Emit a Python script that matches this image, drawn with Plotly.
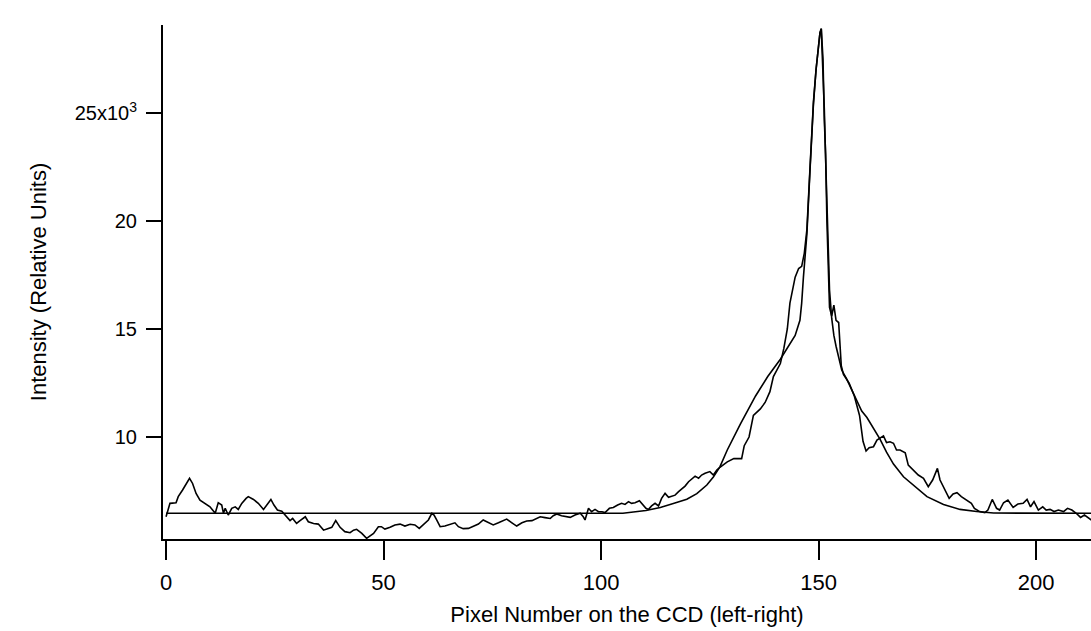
import plotly.graph_objects as go

# Measured spectrum (pixel number, intensity in units of 10^3)
data_x = [0.0, 0.9, 2.3, 2.8, 3.8, 5.4, 6.1, 6.9, 7.8, 9.0, 10.1, 11.3, 12.0, 12.8, 13.2, 13.6, 14.3, 15.1, 15.9, 16.6,
          17.4, 18.4, 18.9, 20.1, 21.2, 22.4, 23.1, 24.1, 24.8, 25.6, 26.6, 27.6, 28.5, 29.1, 30.0, 30.8, 32.0, 32.7, 33.9, 35.0,
          36.2, 37.3, 38.1, 39.0, 40.0, 41.1, 42.3, 43.1, 43.8, 45.0, 46.1, 47.7, 48.8, 49.5, 50.3, 51.5, 52.6, 53.8, 54.9, 56.1,
          57.2, 58.2, 59.2, 60.3, 61.1, 61.6, 62.2, 63.0, 64.1, 65.3, 66.4, 67.2, 68.3, 69.5, 70.6, 71.8, 72.9, 74.1, 75.2, 76.4,
          77.5, 78.3, 79.5, 80.6, 81.8, 82.9, 84.1, 84.8, 86.0, 87.1, 88.3, 89.0, 89.8, 90.9, 91.7, 92.9, 94.0, 95.2, 95.9, 96.3,
          97.1, 97.8, 98.6, 99.4, 100.2, 100.9, 101.9, 102.8, 103.8, 104.7, 105.5, 106.3, 107.0, 107.8, 108.8, 109.6, 110.3, 110.9, 111.6, 112.4,
          113.2, 113.9, 114.7, 115.5, 116.2, 117.0, 117.8, 118.5, 119.3, 120.1, 120.8, 121.6, 122.4, 123.1, 123.9, 125.0, 125.8, 126.6, 127.3, 129.0,
          130.5, 132.3, 132.9, 134.0, 135.0, 136.6, 137.7, 138.8, 139.6, 141.2, 142.0, 142.8, 143.4, 144.0, 144.6, 145.4, 146.1, 146.7, 147.0, 147.3,
          148.0, 148.4, 148.8, 149.4, 149.9, 150.3, 150.6, 151.0, 151.3, 151.6, 151.9, 152.2, 152.5, 153.0, 153.5, 154.0, 154.6, 154.9, 155.2, 155.7,
          157.0, 158.2, 159.4, 160.2, 160.9, 161.6, 162.6, 163.4, 164.1, 164.9, 165.6, 166.4, 167.2, 167.9, 168.7, 169.9, 170.6, 171.8, 172.9, 174.1,
          175.2, 176.2, 177.3, 177.9, 179.0, 180.0, 180.9, 181.8, 182.8, 183.9, 185.1, 185.8, 187.0, 188.2, 188.9, 189.9, 190.9, 191.6, 192.5, 193.5,
          194.7, 195.8, 197.0, 197.9, 198.7, 199.5, 200.5, 201.5, 202.3, 203.2, 204.1, 205.1, 206.3, 207.2, 208.2, 209.2, 210.2, 211.1, 212.1, 212.7]
data_y = [6.31, 6.93, 6.96, 7.24, 7.55, 8.09, 7.85, 7.39, 7.08, 6.93, 6.77, 6.47, 6.96, 6.85, 6.47, 6.70, 6.39, 6.70, 6.77, 6.65,
          6.93, 7.16, 7.24, 7.11, 6.93, 6.65, 6.85, 7.11, 6.85, 6.62, 6.57, 6.31, 6.13, 6.23, 6.00, 6.13, 6.31, 6.08, 6.00, 5.97,
          5.69, 5.77, 5.82, 6.13, 5.82, 5.62, 5.57, 5.69, 5.73, 5.54, 5.31, 5.54, 5.85, 5.85, 5.74, 5.82, 5.93, 5.97, 5.88, 5.96,
          5.93, 5.77, 5.97, 6.16, 6.47, 6.39, 6.16, 5.85, 5.88, 5.97, 6.03, 5.85, 5.76, 5.77, 5.88, 5.97, 6.16, 6.03, 5.93, 6.03,
          6.13, 6.20, 6.03, 5.88, 6.03, 6.11, 6.13, 6.19, 6.31, 6.27, 6.23, 6.36, 6.44, 6.36, 6.33, 6.28, 6.39, 6.47, 6.31, 6.16,
          6.70, 6.54, 6.65, 6.54, 6.54, 6.50, 6.70, 6.74, 6.85, 6.93, 6.88, 7.01, 6.93, 6.96, 7.05, 6.85, 6.70, 6.65, 6.81, 6.93,
          6.81, 7.16, 7.39, 7.21, 7.24, 7.31, 7.47, 7.58, 7.73, 7.93, 8.04, 8.19, 8.09, 8.24, 8.32, 8.40, 8.24, 8.47, 8.60, 8.85,
          9.00, 9.00, 9.60, 10.0, 11.0, 11.3, 11.6, 12.1, 12.8, 13.4, 14.1, 15.0, 16.2, 16.8, 17.4, 17.8, 17.9, 18.5, 19.0, 19.6,
          22.4, 24.2, 25.5, 27.0, 28.1, 28.7, 28.9, 27.5, 24.7, 23.1, 20.0, 18.0, 16.0, 15.6, 16.1, 15.4, 15.3, 14.3, 13.3, 12.9,
          12.5, 11.9, 11.0, 9.80, 9.35, 9.50, 9.55, 9.86, 9.94, 10.05, 9.74, 9.78, 9.71, 9.40, 9.40, 9.27, 8.70, 8.47, 8.24, 8.09,
          7.70, 8.01, 8.55, 8.01, 7.55, 7.16, 7.36, 7.42, 7.24, 7.11, 6.93, 6.70, 6.55, 6.50, 6.62, 7.11, 6.70, 6.62, 6.96, 7.08,
          6.74, 6.90, 6.93, 7.11, 6.77, 7.01, 6.62, 6.77, 6.62, 6.65, 6.55, 6.62, 6.55, 6.70, 6.62, 6.47, 6.28, 6.39, 6.23, 6.16]

# Fitted curve
fit_x = [0.0, 105.0, 110.3, 113.6, 116.6, 119.7, 122.0, 124.3, 125.8, 127.3, 129.0, 132.0, 135.5, 138.3, 141.2, 143.4,
         144.6, 145.7, 146.1, 146.5, 146.9, 147.3, 148.0, 148.4, 148.8, 149.4, 149.9, 150.3, 150.6, 151.0, 151.3, 151.6,
         151.9, 152.2, 152.5, 153.0, 153.5, 154.0, 154.6, 155.3, 156.4, 157.6, 158.8, 159.9, 161.1, 162.6, 164.1, 165.6,
         167.2, 169.5, 171.8, 174.9, 178.7, 182.5, 186.3, 190.2, 212.7]
fit_y = [6.47, 6.47, 6.60, 6.74, 6.92, 7.12, 7.38, 7.78, 8.15, 8.62, 9.40, 10.6, 11.9, 12.8, 13.6, 14.3,
         14.7, 15.4, 16.2, 17.4, 18.5, 19.4, 22.3, 24.1, 25.4, 27.0, 28.1, 28.7, 28.9, 27.2, 25.2, 22.9,
         20.5, 18.6, 16.8, 15.5, 14.7, 14.2, 13.7, 13.1, 12.7, 12.2, 11.7, 11.2, 10.9, 10.4, 9.90, 9.30,
         8.75, 8.16, 7.75, 7.24, 6.88, 6.65, 6.55, 6.48, 6.47]

x_tickvals = [0, 50, 100, 150, 200]
x_ticktext = ["0", "50", "100", "150", "200"]
y_tickvals = [10, 15, 20, 25]
y_ticktext = ["10", "15", "20", "25x10<sup>3</sup>"]

fig = go.Figure()
fig.add_trace(go.Scatter(x=fit_x, y=fit_y, mode="lines", line=dict(color="black", width=1.6), showlegend=False))
fig.add_trace(go.Scatter(x=data_x, y=data_y, mode="lines", line=dict(color="black", width=1.6), showlegend=False))

fig.update_layout(
    width=1091, height=631,
    margin=dict(l=163, r=0, t=25, b=92),
    paper_bgcolor="white", plot_bgcolor="white",
    font=dict(family="Liberation Sans, Arial, sans-serif", color="black"),
)
fig.update_xaxes(
    range=[-0.7, 212.6], showgrid=False, zeroline=False,
    showline=True, linecolor="black", linewidth=2,
    ticks="outside", ticklen=19, tickwidth=2, tickcolor="black",
    tickvals=x_tickvals, ticktext=x_ticktext,
    tickfont=dict(family="Liberation Sans, Arial", size=22),
    ticklabelstandoff=4,
    title=dict(text="Pixel Number on the CCD (left-right)", standoff=12,
               font=dict(family="Liberation Sans, Arial", size=22)),
)
fig.update_yaxes(
    range=[5.28, 29.07], showgrid=False, zeroline=False,
    showline=True, linecolor="black", linewidth=2,
    ticks="outside", ticklen=15, tickwidth=1.5, tickcolor="black",
    tickvals=y_tickvals, ticktext=y_ticktext,
    tickfont=dict(family="Liberation Sans, Arial", size=20),
    ticklabelstandoff=5,
    title=dict(text="Intensity (Relative Units)", standoff=22,
               font=dict(family="Liberation Sans, Arial", size=22)),
)

fig.write_html("out.html")
